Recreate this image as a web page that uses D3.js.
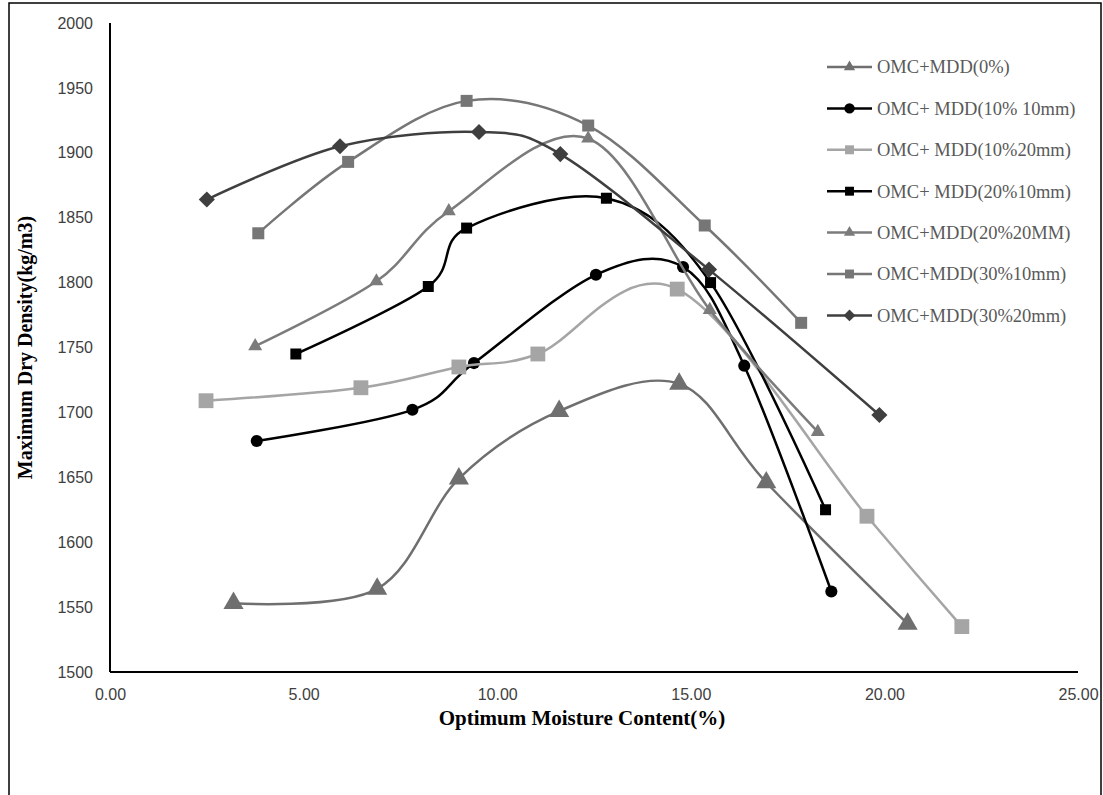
<!DOCTYPE html>
<html>
<head>
<meta charset="utf-8">
<script src="https://cdn.jsdelivr.net/npm/d3@7"></script>
<style>
  body { margin: 0; background: #fff; }
</style>
</head>
<body>
<script>
// values
var xTicks = [0, 5, 10, 15, 20, 25];
var yTicks = [1500, 1550, 1600, 1650, 1700, 1750, 1800, 1850, 1900, 1950, 2000];

var names = ['OMC+MDD(0%)', 'OMC+ MDD(10% 10mm)', 'OMC+ MDD(10%20mm)', 'OMC+ MDD(20%10mm)',
             'OMC+MDD(20%20MM)', 'OMC+MDD(30%10mm)', 'OMC+MDD(30%20mm)'];

var omc0 = [3.19, 6.90, 9.01, 11.60, 14.70, 16.95, 20.6];
var mdd0 = [1553, 1564, 1649, 1701, 1722, 1646, 1537];

var omc10_10 = [3.79, 7.81, 9.40, 12.55, 14.80, 16.38, 18.63];
var mdd10_10 = [1678, 1702, 1738, 1806, 1812, 1736, 1562];

var omc10_20 = [2.48, 6.48, 9.01, 11.05, 14.65, 19.55, 22.0];
var mdd10_20 = [1709, 1719, 1735, 1745, 1795, 1620, 1535];

var omc20_10 = [4.80, 8.22, 9.21, 12.82, 15.51, 18.48];
var mdd20_10 = [1745, 1797, 1842, 1865, 1800, 1625];

var omc20_20 = [3.75, 6.88, 8.75, 12.35, 15.49, 18.28];
var mdd20_20 = [1751, 1801, 1855, 1911, 1779, 1685];

var omc30_10 = [3.83, 6.15, 9.21, 12.35, 15.36, 17.85];
var mdd30_10 = [1838, 1893, 1940, 1921, 1844, 1769];

var omc30_20 = [2.50, 5.94, 9.53, 11.63, 15.47, 19.87];
var mdd30_20 = [1864, 1905, 1916, 1899, 1810, 1698];

var W = 1103, H = 795;
var m = {left: 110, right: 1078, top: 23, bottom: 672};

var svg = d3.select('body').append('svg')
    .attr('width', W)
    .attr('height', H);

// outer frame
svg.append('path')
    .attr('d', 'M9,' + (H + 2) + 'V3H1101V' + (H + 2))
    .attr('fill', 'none')
    .attr('stroke', '#000')
    .attr('stroke-width', 1.5);

var x = d3.scaleLinear().domain([0, 25]).range([m.left, m.right]);
var y = d3.scaleLinear().domain([1500, 2000]).range([m.bottom, m.top]);

var series = [
  {name: names[0], xs: omc0, ys: mdd0, color: '#6f6f6f', shape: 'triangle', size: 175, lsize: 55},
  {name: names[1], xs: omc10_10, ys: mdd10_10, color: '#000000', shape: 'circle', size: 115, lsize: 85},
  {name: names[2], xs: omc10_20, ys: mdd10_20, color: '#a5a5a5', shape: 'square', size: 220, lsize: 80},
  {name: names[3], xs: omc20_10, ys: mdd20_10, color: '#000000', shape: 'square', size: 121, lsize: 80},
  {name: names[4], xs: omc20_20, ys: mdd20_20, color: '#7b7b7b', shape: 'triangle', size: 85, lsize: 55},
  {name: names[5], xs: omc30_10, ys: mdd30_10, color: '#767676', shape: 'square', size: 144, lsize: 80},
  {name: names[6], xs: omc30_20, ys: mdd30_20, color: '#3f3f3f', shape: 'diamond', size: 130, lsize: 70}
];

function symbolFor(s, size) {
  var t = s.shape === 'triangle' ? d3.symbolTriangle
        : s.shape === 'circle' ? d3.symbolCircle
        : d3.symbolSquare;
  return d3.symbol().type(t).size(size)();
}

// axes: lines only, labels without tick marks
var xAxis = svg.append('g')
    .attr('transform', 'translate(0,' + m.bottom + ')')
    .call(d3.axisBottom(x).tickValues(xTicks).tickSize(0).tickPadding(17)
      .tickFormat(d3.format('.2f')));
var yAxis = svg.append('g')
    .attr('transform', 'translate(' + m.left + ',0)')
    .call(d3.axisLeft(y).tickValues(yTicks).tickSize(0).tickPadding(17)
      .tickFormat(d3.format('d')));

[xAxis, yAxis].forEach(function(g) {
  g.select('.domain').attr('stroke', '#000').attr('stroke-width', 2);
  g.selectAll('text')
    .attr('font-family', 'Liberation Sans, Arial, sans-serif')
    .attr('font-size', 16)
    .attr('fill', '#404040');
});
yAxis.select('.domain').attr('d', 'M0,' + m.top + 'V' + m.bottom);
xAxis.select('.domain').attr('d', 'M' + m.left + ',0H' + m.right);

// axis titles
svg.append('text')
    .attr('x', 582)
    .attr('y', m.bottom + 53)
    .attr('text-anchor', 'middle')
    .attr('font-family', 'Liberation Serif, Times New Roman, serif')
    .attr('font-weight', 'bold')
    .attr('font-size', 21)
    .text('Optimum Moisture Content(%)');

svg.append('text')
    .attr('transform', 'translate(32,' + ((m.top + m.bottom) / 2) + ') rotate(-90)')
    .attr('text-anchor', 'middle')
    .attr('font-family', 'Liberation Serif, Times New Roman, serif')
    .attr('font-weight', 'bold')
    .attr('font-size', 20)
    .text('Maximum Dry Density(kg/m3)');

var line = d3.line()
    .x(function(d) { return x(d[0]); })
    .y(function(d) { return y(d[1]); })
    .curve(d3.curveCardinal.tension(0));

series.forEach(function(s) {
  var pts = s.xs.map(function(v, i) { return [v, s.ys[i]]; });
  svg.append('path')
      .datum(pts)
      .attr('d', line)
      .attr('fill', 'none')
      .attr('stroke', s.color)
      .attr('stroke-width', 2.5);
  svg.append('g').selectAll('path')
    .data(pts)
    .enter().append('path')
      .attr('d', symbolFor(s, s.size))
      .attr('transform', function(d) {
        return 'translate(' + x(d[0]) + ',' + y(d[1]) + ')' + (s.shape === 'diamond' ? ' rotate(45)' : '');
      })
      .attr('fill', s.color);
});

// legend
var legend = svg.append('g');
series.forEach(function(s, i) {
  var ly = 67 + i * 41.4;
  legend.append('line')
      .attr('x1', 827).attr('x2', 872)
      .attr('y1', ly).attr('y2', ly)
      .attr('stroke', s.color)
      .attr('stroke-width', 2.5);
  legend.append('path')
      .attr('d', symbolFor(s, s.lsize))
      .attr('transform', 'translate(849.5,' + ly + ')' + (s.shape === 'diamond' ? ' rotate(45)' : ''))
      .attr('fill', s.color);
  legend.append('text')
      .attr('x', 877)
      .attr('y', ly)
      .attr('dy', '0.35em')
      .attr('font-family', 'Liberation Serif, Times New Roman, serif')
      .attr('font-size', 18.5)
      .attr('fill', '#595959')
      .text(s.name);
});
</script>
</body>
</html>
